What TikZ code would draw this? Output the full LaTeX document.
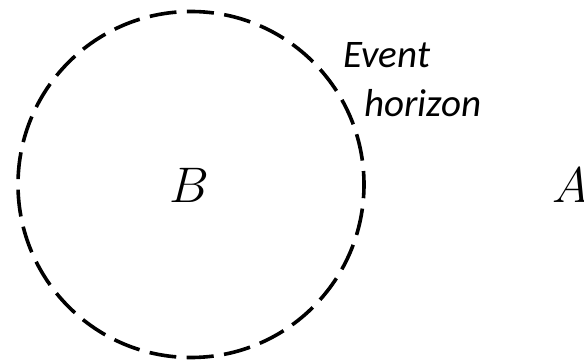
\documentclass[tikz,border=0pt]{standalone}
\usepackage{fix-cm}
\usepackage{fontspec}
\newfontfamily\horizonfont{Carlito}
\begin{document}
\begin{tikzpicture}[x=1pt,y=1pt]
            \useasboundingbox (0,0) rectangle (584,362);
            \draw[
                line width = 3.6pt,
                dash pattern = on 27pt off 10.48pt,
                dash phase = 13.5pt
            ]
            (191,177.5) circle (173);
            \node[inner sep=0, anchor=base, font=\fontsize{50}{60}\selectfont] (b) at (189,159) {$B$};
            \node[inner sep=0, anchor=base west, font=\fontsize{50}{60}\selectfont] (a) at (552,159) {$A$};
            \node[inner sep=0, anchor=base west, font=\horizonfont\itshape\fontsize{39}{47}\selectfont] (event) at (343,294) {Event};
            \node[inner sep=0, anchor=base west, font=\horizonfont\itshape\fontsize{39}{47}\selectfont] (horizon) at (364,245) {horizon};
        \end{tikzpicture}
\end{document}
